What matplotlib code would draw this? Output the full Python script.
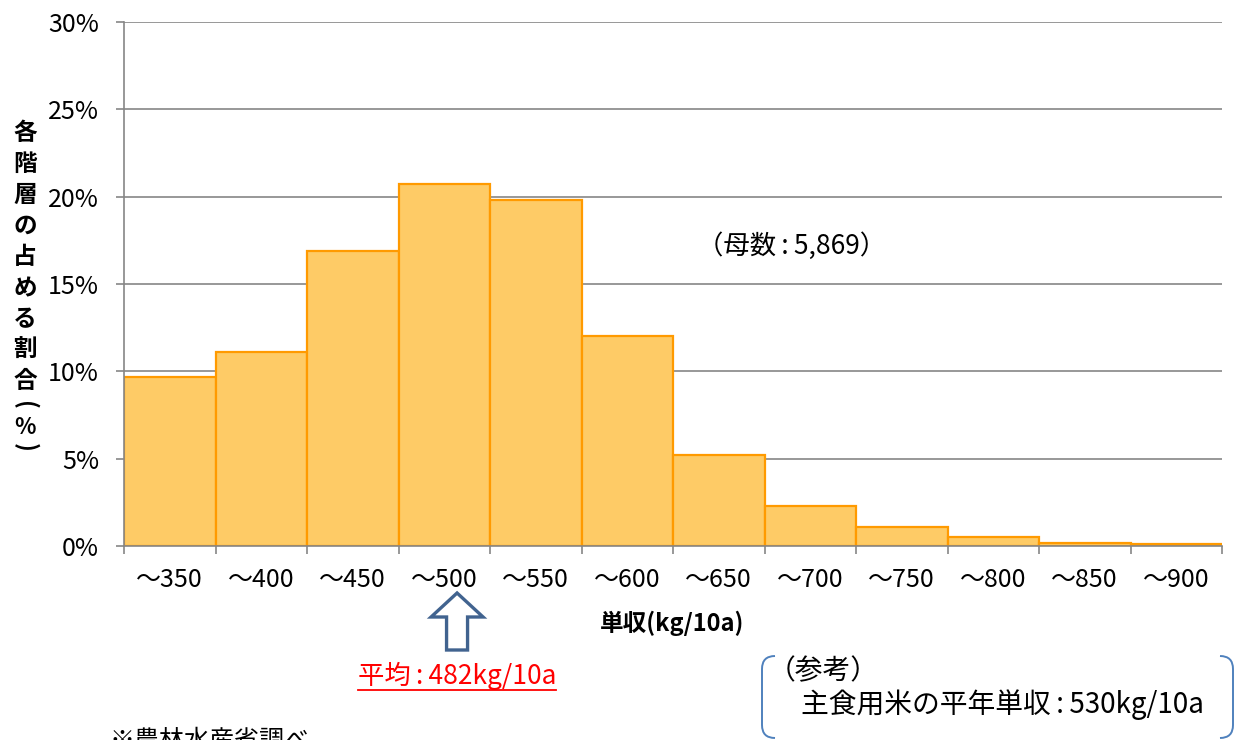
import matplotlib
matplotlib.use("Agg")
import matplotlib.pyplot as plt
from matplotlib.patches import Polygon, PathPatch
from matplotlib.path import Path
from matplotlib.lines import Line2D
from matplotlib.transforms import blended_transform_factory

plt.rcParams['font.family'] = ['Noto Sans CJK JP', 'DejaVu Sans']

# Yield classes (upper bound, kg/10a) and share of farms in each class (%)
bin_edges = [300, 350, 400, 450, 500, 550, 600, 650, 700, 750, 800, 850, 900]
class_labels = ["～350", "～400", "～450", "～500", "～550", "～600",
                "～650", "～700", "～750", "～800", "～850", "～900"]
shares = [9.7, 11.1, 16.9, 20.7, 19.8, 12.0, 5.2, 2.3, 1.1, 0.5, 0.2, 0.1]
y_ticks = [0, 5, 10, 15, 20, 25, 30]
mean_yield = 482
normal_yield = 530
sample_size = "5,869"

W, H = 1235, 740
fig = plt.figure(figsize=(W / 100, H / 100), dpi=100)
ax = fig.add_axes([124 / W, 1 - 546 / H, (1222 - 124) / W, (546 - 22) / H])


def fx(x):
    return x / W


def fy(y):
    return 1 - y / H


GRID = "#868686"
SEP = "\u2009:\u2009"  # colon with thin spaces around it

widths = [b - a for a, b in zip(bin_edges[:-1], bin_edges[1:])]
ax.bar(bin_edges[:-1], shares, width=widths, align="edge",
       color="#FECB66", edgecolor="#FF9A00", linewidth=1.6, zorder=3)

ax.set_xlim(bin_edges[0], bin_edges[-1])
ax.set_ylim(0, 30)
ax.set_yticks(y_ticks)
ax.set_yticklabels([f"{v}%" for v in y_ticks], fontsize=18)
ax.yaxis.grid(True, color=GRID, linewidth=1.2, zorder=0)
ax.set_axisbelow(True)

ax.set_xticks(bin_edges)
ax.set_xticklabels([])
centers = [(a + b) / 2 for a, b in zip(bin_edges[:-1], bin_edges[1:])]
ax.set_xticks(centers, minor=True)
ax.set_xticklabels(class_labels, minor=True, fontsize=18)
ax.tick_params(axis="x", which="major", length=6, width=1.2, color=GRID, direction="out")
ax.tick_params(axis="x", which="minor", length=0, pad=15)
ax.tick_params(axis="y", length=6, width=1.2, color=GRID, direction="out", pad=12)

for side in ("top", "right"):
    ax.spines[side].set_visible(False)
for side in ("left", "bottom"):
    ax.spines[side].set_color(GRID)
    ax.spines[side].set_linewidth(1.2)
    ax.spines[side].set_zorder(4)

# X-axis title
fig.text(fx(672), fy(623), "単収(kg/10a)", ha="center", va="center",
         fontsize=17, fontweight="bold")

# Vertical y-axis title, one character per line
ylabel_chars = ["各", "階", "層", "の", "占", "め", "る", "割", "合"]
for i, ch in enumerate(ylabel_chars):
    fig.text(fx(25), fy(133 + 31 * i), ch, ha="center", va="center",
             fontsize=17, fontweight="bold")
fig.text(fx(25), fy(405), "(", ha="center", va="center", fontsize=17,
         fontweight="bold", rotation=-90)
fig.text(fx(25), fy(428), "%", ha="center", va="center", fontsize=16, fontweight="bold")
fig.text(fx(25), fy(447), ")", ha="center", va="center", fontsize=17,
         fontweight="bold", rotation=-90)

# Sample size note
fig.text(fx(792), fy(246), f"（母数{SEP}{sample_size}）", ha="center", va="center",
         fontsize=19)

# Hollow arrow marking the mean yield
bt = blended_transform_factory(ax.transData, fig.transFigure)
px = (bin_edges[-1] - bin_edges[0]) / (1222 - 124)  # data units per pixel
head_hw, shaft_hw = 26 * px, 10.5 * px
y_tip, y_head, y_bot = fy(593), fy(617), fy(650)
arrow = Polygon([
    (mean_yield, y_tip),
    (mean_yield + head_hw, y_head),
    (mean_yield + shaft_hw, y_head),
    (mean_yield + shaft_hw, y_bot),
    (mean_yield - shaft_hw, y_bot),
    (mean_yield - shaft_hw, y_head),
    (mean_yield - head_hw, y_head),
], closed=True, transform=bt, facecolor="white", edgecolor="#41638F",
    linewidth=2.4, clip_on=False, zorder=5, joinstyle="miter")
fig.add_artist(arrow)

mean_txt = fig.text(mean_yield, fy(676), f"平均{SEP}{mean_yield}kg/10a", color="#FF0000",
                    ha="center", va="center", fontsize=19, transform=bt)

# Reference box with bracket-style frame
r = 13
verts, codes = [], []
for xe, s in ((762, 1), (1233, -1)):
    verts += [(fx(xe + s * r), fy(656)), (fx(xe), fy(656)), (fx(xe), fy(656 + r)),
              (fx(xe), fy(738 - r)), (fx(xe), fy(738)), (fx(xe + s * r), fy(738))]
    codes += [Path.MOVETO, Path.CURVE3, Path.CURVE3, Path.LINETO, Path.CURVE3, Path.CURVE3]
fig.add_artist(PathPatch(Path(verts, codes), transform=fig.transFigure, facecolor="none",
                         edgecolor="#4F81BD", linewidth=1.4, clip_on=False))
fig.text(fx(768), fy(671), "（参考）", ha="left", va="center", fontsize=20)
fig.text(fx(801), fy(705), f"主食用米の平年単収{SEP}{normal_yield}kg/10a",
         ha="left", va="center", fontsize=20)

# Source note (runs off the bottom edge)
fig.text(fx(110), fy(727), "※農林水産省調べ", ha="left", va="top", fontsize=18)

# Underline the mean label
fig.canvas.draw()
bb = mean_txt.get_window_extent().transformed(fig.transFigure.inverted())
fig.add_artist(Line2D([bb.x0, bb.x1], [fy(690), fy(690)], color="#FF0000",
                      linewidth=1.3, transform=fig.transFigure))

fig.savefig("out.png", dpi=100)
